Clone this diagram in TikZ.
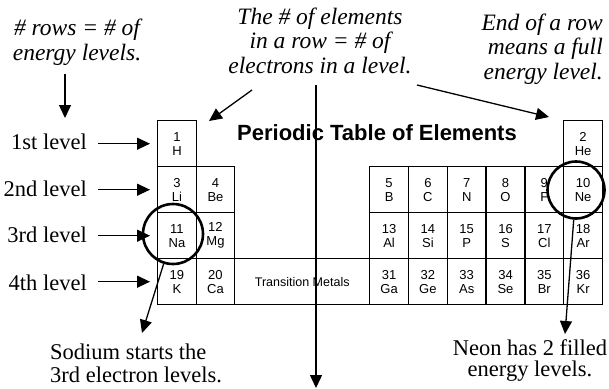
\documentclass[tikz,border=0pt]{standalone}
\usepackage{fontspec}
\setmainfont{Liberation Serif}
\setsansfont{Liberation Sans}
\usetikzlibrary{arrows.meta}
\begin{document}
\begin{tikzpicture}[x=1pt,y=-1pt,
  cell/.style={draw, line width=1.4pt, minimum width=38.8pt, minimum height=46pt,
    inner sep=0pt, align=center, anchor=north west,
    font=\sffamily\fontsize{13}{14}\selectfont},
  lcell/.style={cell, minimum width=38.5pt},
  lvl/.style={inner sep=0pt, anchor=base east, font=\fontsize{22.5}{23}\selectfont},
  itxt/.style={inner sep=0pt, font=\itshape\fontsize{23.5}{24.5}\selectfont},
  utxt/.style={inner sep=0pt, font=\fontsize{22.5}{23}\selectfont},
  ring/.style={draw, circle, line width=2.6pt, inner sep=0pt},
  arr/.style={line width=1.3pt, -{Triangle[length=13pt,width=12pt]}}]
\useasboundingbox (0,0) rectangle (609,388);
% row 1
\node[lcell] (H) at (157,120) {1\\H};
\node[cell] (He) at (563,120) {2\\He};
% row 2
\node[lcell] (Li) at (157,166) {3\\Li};
\node[lcell] (Be) at (195.5,166) {4\\Be};
\node[cell] (B) at (369,166) {5\\B};
\node[cell] (C) at (407.8,166) {6\\C};
\node[cell] (N) at (446.6,166) {7\\N};
\node[cell] (O) at (485.4,166) {8\\O};
\node[cell] (F) at (524.2,166) {9\\F};
\node[cell] (Ne) at (563,166) {10\\Ne};
% row 3
\node[lcell] (Na) at (157,212) {11\\Na};
\node[lcell] (Mg) at (195.5,212) {12\\Mg};
\node[cell] (Al) at (369,212) {13\\Al};
\node[cell] (Si) at (407.8,212) {14\\Si};
\node[cell] (P) at (446.6,212) {15\\P};
\node[cell] (S) at (485.4,212) {16\\S};
\node[cell] (Cl) at (524.2,212) {17\\Cl};
\node[cell] (Ar) at (563,212) {18\\Ar};
% row 4
\node[lcell] (K) at (157,258) {19\\K};
\node[lcell] (Ca) at (195.5,258) {20\\Ca};
\node[cell, minimum width=135pt, font=\sffamily\fontsize{12.5}{14}\selectfont] (TM) at (234,258) {Transition Metals};
\node[cell] (Ga) at (369,258) {31\\Ga};
\node[cell] (Ge) at (407.8,258) {32\\Ge};
\node[cell] (As) at (446.6,258) {33\\As};
\node[cell] (Se) at (485.4,258) {34\\Se};
\node[cell] (Br) at (524.2,258) {35\\Br};
\node[cell] (Kr) at (563,258) {36\\Kr};
% title
\node[inner sep=0pt, font=\sffamily\bfseries\fontsize{22}{24}\selectfont] (title) at (377,133) {Periodic Table of Elements};
% level labels
\node[lvl] (l1) at (87,149) {1st level};
\node[lvl] (l2) at (87,196) {2nd level};
\node[lvl] (l3) at (87,242) {3rd level};
\node[lvl] (l4) at (87,290) {4th level};
\draw[arr, shorten <=11pt, shorten >=7pt] (l1.east |- H.west) -- (H.west);
\draw[arr, shorten <=11pt, shorten >=7pt] (l2.east |- Li.west) -- (Li.west);
\draw[arr, shorten <=11pt, shorten >=7pt] (l3.east |- Na.west) -- (Na.west);
\draw[arr, shorten <=11pt, shorten >=7pt] (l4.east |- K.west) -- (K.west);
% top texts (base = baseline of last line)
\node[itxt, anchor=base, align=center] (tl) at (77,60) {\# rows = \# of\\energy levels.};
\node[itxt, anchor=base, align=center] (tm) at (320,73) {The \# of elements\\in a row = \# of\\electrons in a level.};
\node[itxt, anchor=base east, align=right] (tr) at (603,79) {End of a row\\means a full\\energy level.};
\coordinate (a1s) at (65,74);
\coordinate (a1e) at (65,118);
\draw[arr] (a1s) -- (a1e);
\coordinate (m1s) at (252,90);
\coordinate (m1e) at (209,121);
\coordinate (m2s) at (316,85);
\coordinate (m2e) at (316,388);
\coordinate (m3s) at (417,85);
\coordinate (m3e) at (549,117);
\draw[arr] (m1s) -- (m1e);
\draw[arr] (m2s) -- (m2e);
\draw[arr] (m3s) -- (m3e);
% circles
\node[ring, minimum size=60pt] (nac) at (173,234) {};
\node[ring, minimum size=57pt] (nec) at (576,190) {};
\coordinate (nat) at (142,333);
\coordinate (net) at (565,334);
\draw[arr] (nac) -- (nat);
\draw[arr] (nec) -- (net);
% bottom texts
\node[utxt, anchor=base west, align=left] (bl) at (50,382) {Sodium starts the\\3rd electron levels.};
\node[utxt, anchor=base, align=center, font=\fontsize{22.5}{21}\selectfont] (br) at (530,376) {Neon has 2 filled\\energy levels.};
\end{tikzpicture}
\end{document}
